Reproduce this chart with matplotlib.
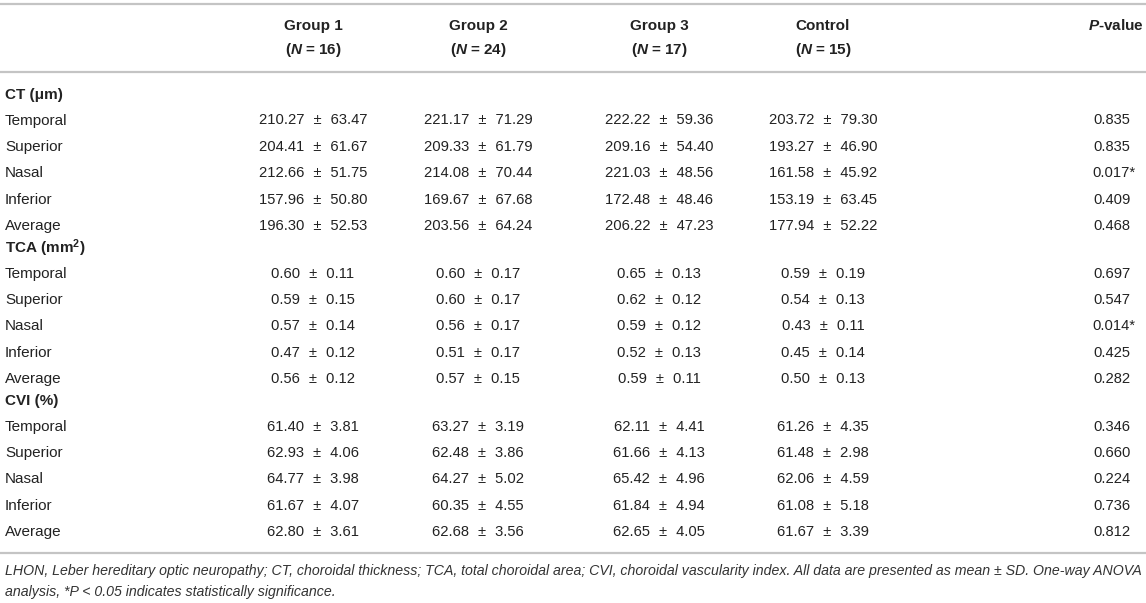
import matplotlib
matplotlib.use("Agg")
import matplotlib.pyplot as plt

plt.rcParams['font.family'] = ['Liberation Sans', 'DejaVu Sans']
plt.rcParams['mathtext.fontset'] = 'custom'
plt.rcParams['mathtext.rm'] = 'Liberation Sans:bold'
plt.rcParams['mathtext.it'] = 'Liberation Sans:italic:bold'
plt.rcParams['mathtext.bf'] = 'Liberation Sans:bold'

# table data
groups = ["Group 1", "Group 2", "Group 3", "Control"]
group_n = [16, 24, 17, 15]
sections = ["CT (\u03bcm)", r"TCA (mm$\mathrm{^2}$)", "CVI (%)"]
regions = ["Temporal", "Superior", "Nasal", "Inferior", "Average"]

ct_mean = [[210.27, 221.17, 222.22, 203.72],
           [204.41, 209.33, 209.16, 193.27],
           [212.66, 214.08, 221.03, 161.58],
           [157.96, 169.67, 172.48, 153.19],
           [196.30, 203.56, 206.22, 177.94]]
ct_sd = [[63.47, 71.29, 59.36, 79.30],
         [61.67, 61.79, 54.40, 46.90],
         [51.75, 70.44, 48.56, 45.92],
         [50.80, 67.68, 48.46, 63.45],
         [52.53, 64.24, 47.23, 52.22]]
ct_p = [0.835, 0.835, 0.017, 0.409, 0.468]

tca_mean = [[0.60, 0.60, 0.65, 0.59],
            [0.59, 0.60, 0.62, 0.54],
            [0.57, 0.56, 0.59, 0.43],
            [0.47, 0.51, 0.52, 0.45],
            [0.56, 0.57, 0.59, 0.50]]
tca_sd = [[0.11, 0.17, 0.13, 0.19],
          [0.15, 0.17, 0.12, 0.13],
          [0.14, 0.17, 0.12, 0.11],
          [0.12, 0.17, 0.13, 0.14],
          [0.12, 0.15, 0.11, 0.13]]
tca_p = [0.697, 0.547, 0.014, 0.425, 0.282]

cvi_mean = [[61.40, 63.27, 62.11, 61.26],
            [62.93, 62.48, 61.66, 61.48],
            [64.77, 64.27, 65.42, 62.06],
            [61.67, 60.35, 61.84, 61.08],
            [62.80, 62.68, 62.65, 61.67]]
cvi_sd = [[3.81, 3.19, 4.41, 4.35],
          [4.06, 3.86, 4.13, 2.98],
          [3.98, 5.02, 4.96, 4.59],
          [4.07, 4.55, 4.94, 5.18],
          [3.61, 3.56, 4.05, 3.39]]
cvi_p = [0.346, 0.660, 0.224, 0.736, 0.812]

footnote = ["LHON, Leber hereditary optic neuropathy; CT, choroidal thickness; TCA, total choroidal area; "
            "CVI, choroidal vascularity index. All data are presented as mean \u00b1 SD. One-way ANOVA",
            "analysis, *P < 0.05 indicates statistically significance."]

means = [ct_mean, tca_mean, cvi_mean]
sds = [ct_sd, tca_sd, cvi_sd]
pvals = [ct_p, tca_p, cvi_p]

# layout (pixel coords)
W, H = 1146, 603
col_x = [313, 478, 659, 823]
p_x = 1112
txt = '#222222'
line_c = '#c4c4c4'
fs = 10.6
pm = "\u2004\u00b1\u2004"

fig = plt.figure(figsize=(W / 100, H / 100), dpi=100)
ax = fig.add_axes([0, 0, 1, 1])
ax.set_xlim(0, W)
ax.set_ylim(H, 0)
ax.axis('off')

for yl in [4, 72, 553]:
    ax.plot([0, W], [yl, yl], color=line_c, lw=1.6, solid_capstyle='butt')

# header
for g, n, x in zip(groups, group_n, col_x):
    ax.text(x, 26, g, ha='center', va='center', fontsize=11, fontweight='bold', color=txt)
    ax.text(x, 50, r"($N$ = %d)" % n, ha='center', va='center', fontsize=11,
            fontweight='bold', color=txt)
ax.text(1116, 26, r"$P$-value", ha='center', va='center', fontsize=11,
        fontweight='bold', color=txt)

y = 95
for s in range(len(sections)):
    ax.text(5, y, sections[s], ha='left', va='center', fontsize=11, fontweight='bold', color=txt)
    y += 25.5
    for r in range(len(regions)):
        ax.text(5, y, regions[r], ha='left', va='center', fontsize=11, color=txt)
        for c in range(4):
            m = means[s][r][c]
            sd = sds[s][r][c]
            ax.text(col_x[c], y, "%.2f %s %.2f" % (m, pm, sd), ha='center', va='center',
                    fontsize=fs, color=txt)
        p = pvals[s][r]
        lab = "%.3f" % p
        if p < 0.05:
            lab = lab + "*"
        ax.text(p_x + (2 if p < 0.05 else 0), y, lab, ha='center', va='center', fontsize=fs, color=txt)
        if r < len(regions) - 1:
            y += 26.4
    y += 22

ax.text(5, 571, footnote[0], ha='left', va='center', fontsize=10.2, style='italic', color='#333333')
ax.text(5, 592, footnote[1], ha='left', va='center', fontsize=10.2, style='italic', color='#333333')

fig.savefig("out.png", dpi=100)
